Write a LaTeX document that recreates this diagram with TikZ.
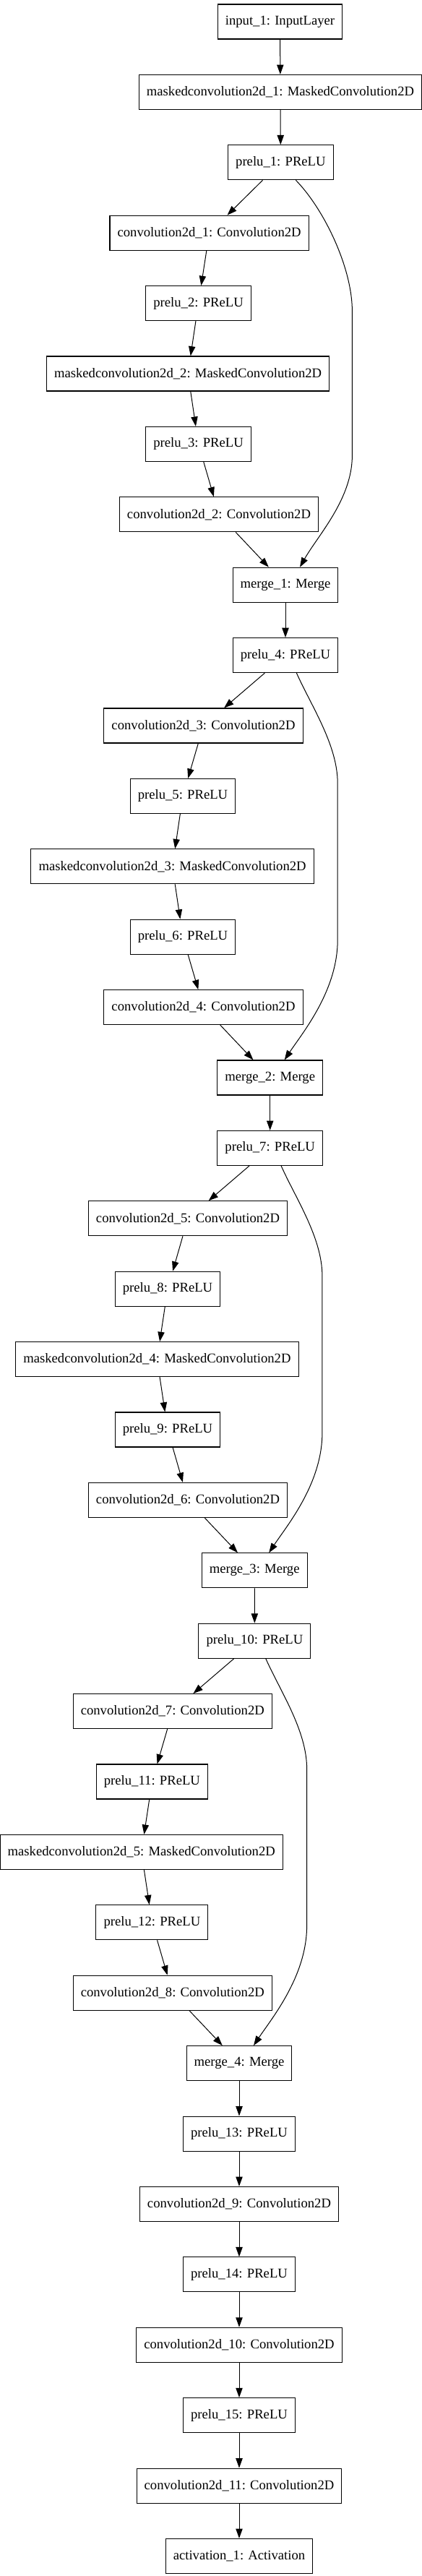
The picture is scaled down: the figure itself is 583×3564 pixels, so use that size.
\documentclass[tikz,border=0pt]{standalone}
\usepackage{fontspec}
\setmainfont{Liberation Serif}
\usetikzlibrary{arrows.meta,calc}

\tikzset{
  layerbox/.style={draw=black, line width=0.8pt, rectangle, minimum height=36pt,
    inner xsep=7.92pt, inner ysep=0pt, font=\fontsize{14}{16}\selectfont},
  arr/.style={line width=0.75pt, -{Triangle[length=10pt,width=7pt]}}
}

\begin{document}
\begin{tikzpicture}[x=0.75pt,y=0.75pt,yscale=-1,xscale=1]
\useasboundingbox (0,0) rectangle (583,3564);

% Layer nodes, block 1
\node[layerbox] (in1) at (387.5,30) {input\_1: InputLayer};
\node[layerbox] (mc1) at (388,127.4) {maskedconvolution2d\_1: MaskedConvolution2D};
\node[layerbox] (pr1) at (388.4,224.8) {prelu\_1: PReLU};
\node[layerbox] (cv1) at (289.6,322.2) {convolution2d\_1: Convolution2D};
\node[layerbox] (pr2) at (274.6,419.6) {prelu\_2: PReLU};
\node[layerbox] (mc2) at (260.1,517) {maskedconvolution2d\_2: MaskedConvolution2D};
\node[layerbox] (pr3) at (274.6,614.4) {prelu\_3: PReLU};
\node[layerbox] (cv2) at (303,711.8) {convolution2d\_2: Convolution2D};
\node[layerbox] (mg1) at (395,809.2) {merge\_1: Merge};
% block 2
\node[layerbox] (pr4) at (395,906.6) {prelu\_4: PReLU};
\node[layerbox] (cv3) at (281.5,1004) {convolution2d\_3: Convolution2D};
\node[layerbox] (pr5) at (253,1101.4) {prelu\_5: PReLU};
\node[layerbox] (mc3) at (238.6,1198.8) {maskedconvolution2d\_3: MaskedConvolution2D};
\node[layerbox] (pr6) at (253,1296.2) {prelu\_6: PReLU};
\node[layerbox] (cv4) at (281.5,1393.6) {convolution2d\_4: Convolution2D};
\node[layerbox] (mg2) at (373.7,1491) {merge\_2: Merge};
% block 3
\node[layerbox] (pr7) at (373.7,1588.4) {prelu\_7: PReLU};
\node[layerbox] (cv5) at (260,1685.8) {convolution2d\_5: Convolution2D};
\node[layerbox] (pr8) at (232,1783.2) {prelu\_8: PReLU};
\node[layerbox] (mc4) at (217.4,1880.6) {maskedconvolution2d\_4: MaskedConvolution2D};
\node[layerbox] (pr9) at (232,1978) {prelu\_9: PReLU};
\node[layerbox] (cv6) at (260,2075.4) {convolution2d\_6: Convolution2D};
\node[layerbox] (mg3) at (352.2,2172.8) {merge\_3: Merge};
% block 4
\node[layerbox] (pr10) at (352.4,2270.2) {prelu\_10: PReLU};
\node[layerbox] (cv7) at (238.8,2367.6) {convolution2d\_7: Convolution2D};
\node[layerbox] (pr11) at (210.4,2465) {prelu\_11: PReLU};
\node[layerbox] (mc5) at (195.7,2562.4) {maskedconvolution2d\_5: MaskedConvolution2D};
\node[layerbox] (pr12) at (210.4,2659.8) {prelu\_12: PReLU};
\node[layerbox] (cv8) at (238.8,2757.2) {convolution2d\_8: Convolution2D};
\node[layerbox] (mg4) at (331,2854.6) {merge\_4: Merge};
% tail
\node[layerbox] (pr13) at (331,2952) {prelu\_13: PReLU};
\node[layerbox] (cv9) at (331,3049.4) {convolution2d\_9: Convolution2D};
\node[layerbox] (pr14) at (331,3146.8) {prelu\_14: PReLU};
\node[layerbox] (cv10) at (331,3244.2) {convolution2d\_10: Convolution2D};
\node[layerbox] (pr15) at (331,3341.6) {prelu\_15: PReLU};
\node[layerbox] (cv11) at (331,3439) {convolution2d\_11: Convolution2D};
\node[layerbox] (act1) at (331,3536.4) {activation\_1: Activation};

% Straight edges
\draw[arr] (in1) -- (mc1);
\draw[arr] (mc1) -- (pr1);
\draw[arr] (pr1) -- (cv1);
\draw[arr] (cv1) -- (pr2);
\draw[arr] (pr2) -- (mc2);
\draw[arr] (mc2) -- (pr3);
\draw[arr] (pr3) -- (cv2);
\draw[arr] (cv2) -- (mg1);
\draw[arr] (mg1) -- (pr4);
\draw[arr] (pr4) -- (cv3);
\draw[arr] (cv3) -- (pr5);
\draw[arr] (pr5) -- (mc3);
\draw[arr] (mc3) -- (pr6);
\draw[arr] (pr6) -- (cv4);
\draw[arr] (cv4) -- (mg2);
\draw[arr] (mg2) -- (pr7);
\draw[arr] (pr7) -- (cv5);
\draw[arr] (cv5) -- (pr8);
\draw[arr] (pr8) -- (mc4);
\draw[arr] (mc4) -- (pr9);
\draw[arr] (pr9) -- (cv6);
\draw[arr] (cv6) -- (mg3);
\draw[arr] (mg3) -- (pr10);
\draw[arr] (pr10) -- (cv7);
\draw[arr] (cv7) -- (pr11);
\draw[arr] (pr11) -- (mc5);
\draw[arr] (mc5) -- (pr12);
\draw[arr] (pr12) -- (cv8);
\draw[arr] (cv8) -- (mg4);
\draw[arr] (mg4) -- (pr13);
\draw[arr] (pr13) -- (cv9);
\draw[arr] (cv9) -- (pr14);
\draw[arr] (pr14) -- (cv10);
\draw[arr] (cv10) -- (pr15);
\draw[arr] (pr15) -- (cv11);
\draw[arr] (cv11) -- (act1);

% Skip connections
\draw[arr] ($(pr1.south)+(21,0)$) .. controls +(39,40) and +(0,-60) .. ++(78,181) -- ++(0,200) .. controls +(0,60) and +(25,-44) .. ($(mg1.north)+(20,0)$);
\draw[arr] ($(pr4.south)+(15.4,0)$) .. controls +(20,45) and +(0,-53) .. ++(56.8,152.4) -- ++(0,217) .. controls +(0,70) and +(25,-37.6) .. ($(mg2.north)+(20,0)$);
\draw[arr] ($(pr7.south)+(15.4,0)$) .. controls +(20,45) and +(0,-53) .. ++(56.8,152.4) -- ++(0,217) .. controls +(0,70) and +(25,-37.6) .. ($(mg3.north)+(20,0)$);
\draw[arr] ($(pr10.south)+(15.4,0)$) .. controls +(20,45) and +(0,-53) .. ++(56.8,152.4) -- ++(0,217) .. controls +(0,70) and +(25,-37.6) .. ($(mg4.north)+(20,0)$);

\end{tikzpicture}
\end{document}
